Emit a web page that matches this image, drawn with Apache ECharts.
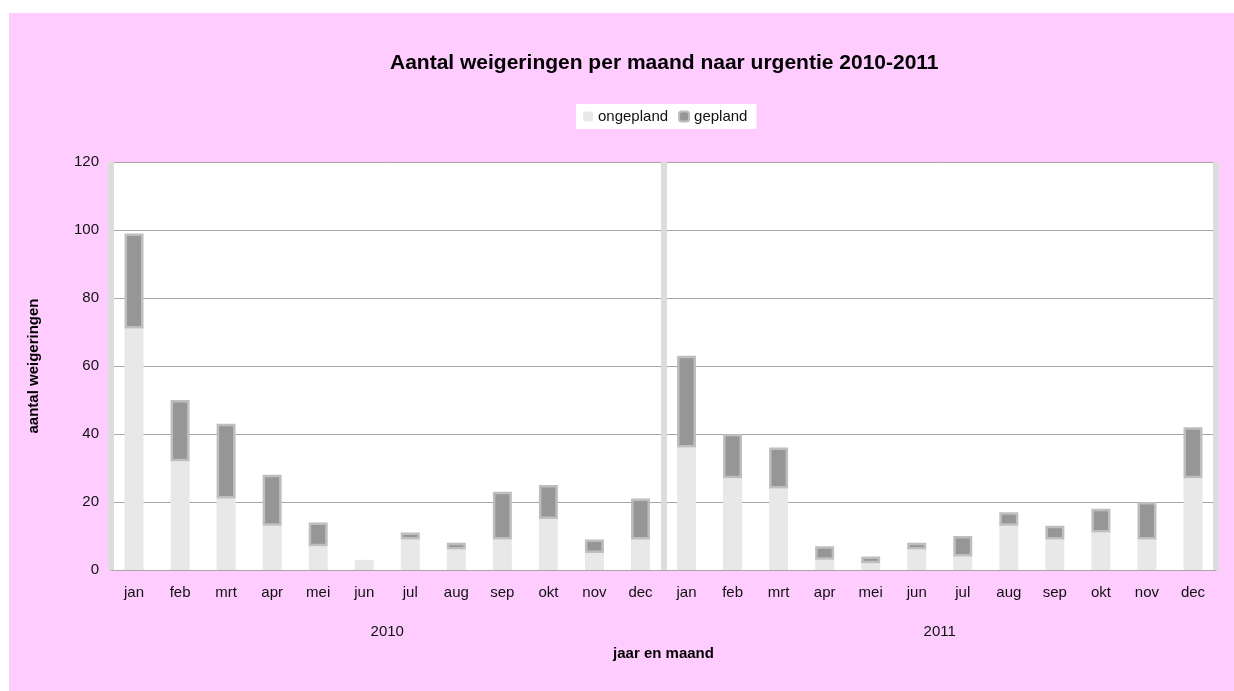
<!DOCTYPE html>
<html>
<head>
<meta charset="utf-8" />
<title>Aantal weigeringen per maand</title>
<script src="https://cdn.jsdelivr.net/npm/echarts@6/dist/echarts.min.js"></script>
<style>
  html, body { margin: 0; padding: 0; background: #fff; }
  #chart { position: absolute; left: 9px; top: 13px; width: 1225px; height: 678px; }
</style>
</head>
<body>
<div id="chart"></div>
<script>
// maanden en jaren
var months = ['jan', 'feb', 'mrt', 'apr', 'mei', 'jun', 'jul', 'aug', 'sep', 'okt', 'nov', 'dec'];
var years = ['2010', '2011'];
var yTicks = [0, 20, 40, 60, 80, 100, 120];

// weigeringen per maand
var ongepland2010 = [71, 32, 21, 13, 7, 3, 9, 6, 9, 15, 5, 9];
var gepland2010 = [28, 18, 22, 15, 7, 0, 2, 2, 14, 10, 4, 12];
var ongepland2011 = [36, 27, 24, 3, 2, 6, 4, 13, 9, 11, 9, 27];
var gepland2011 = [27, 13, 12, 4, 2, 2, 6, 4, 4, 7, 11, 15];

var categories = months.concat(months);
var ongepland = ongepland2010.concat(ongepland2011);
// lege waarden niet tekenen (anders een randje op hoogte 0)
var gepland = gepland2010.concat(gepland2011).map(function (v) { return v === 0 ? '-' : v; });

var font = 'Liberation Sans, Arial, sans-serif';
var myChart = echarts.init(document.getElementById('chart'));

myChart.setOption({
  backgroundColor: '#FFCCFF',
  animation: false,
  textStyle: { fontFamily: font },
  title: {
    text: 'Aantal weigeringen per maand naar urgentie 2010-2011',
    left: 376,
    top: 35,
    textStyle: { fontFamily: font, fontSize: 21, fontWeight: 'bold', color: '#000' }
  },
  legend: {
    top: 91,
    left: 567,
    backgroundColor: '#fff',
    padding: [5, 9, 5, 7],
    itemWidth: 10,
    itemHeight: 10,
    itemGap: 10,
    textStyle: { fontFamily: font, fontSize: 15, color: '#111' },
    data: ['ongepland', 'gepland']
  },
  grid: {
    left: 102,
    right: 18,
    top: 149,
    bottom: 121,
    outerBoundsMode: 'none',
    show: true,
    backgroundColor: '#fff',
    borderWidth: 0
  },
  xAxis: [{
    type: 'category',
    data: categories,
    axisLine: { show: true, lineStyle: { color: '#A6A6A6', width: 1 } },
    axisTick: { show: false },
    axisLabel: { margin: 15, fontSize: 15, color: '#111', fontFamily: font, interval: 0 }
  }, {
    type: 'category',
    data: years,
    position: 'bottom',
    offset: 39,
    axisLine: { show: false },
    axisTick: { show: false },
    axisLabel: { margin: 15, fontSize: 15, color: '#111', fontFamily: font },
    splitLine: { show: true, interval: 0, lineStyle: { color: '#DCDCDC', width: 6 } },
    name: 'jaar en maand',
    nameLocation: 'middle',
    nameGap: 37,
    nameTextStyle: { fontFamily: font, fontSize: 15, fontWeight: 'bold', color: '#000' }
  }],
  yAxis: {
    type: 'value',
    min: 0,
    max: 120,
    interval: 20,
    axisLine: { show: false },
    axisTick: { show: false },
    axisLabel: {
      margin: 12, fontSize: 15, color: '#111', fontFamily: font,
      formatter: function (v) { return yTicks.indexOf(v) >= 0 ? String(v) : ''; }
    },
    splitLine: { show: true, lineStyle: { color: '#A6A6A6', width: 1 } },
    name: 'aantal weigeringen',
    nameLocation: 'middle',
    nameGap: 70,
    nameTextStyle: { fontFamily: font, fontSize: 15, fontWeight: 'bold', color: '#000' }
  },
  series: [{
    name: 'ongepland',
    type: 'bar',
    stack: 'totaal',
    barWidth: 19,
    data: ongepland,
    itemStyle: { color: '#E8E8E8' }
  }, {
    name: 'gepland',
    type: 'bar',
    stack: 'totaal',
    barWidth: 19,
    data: gepland,
    itemStyle: { color: '#969696', borderColor: '#BEBEBE', borderWidth: 2.5 }
  }]
});

window.onresize = function () {
  myChart.resize();
};
</script>
</body>
</html>
